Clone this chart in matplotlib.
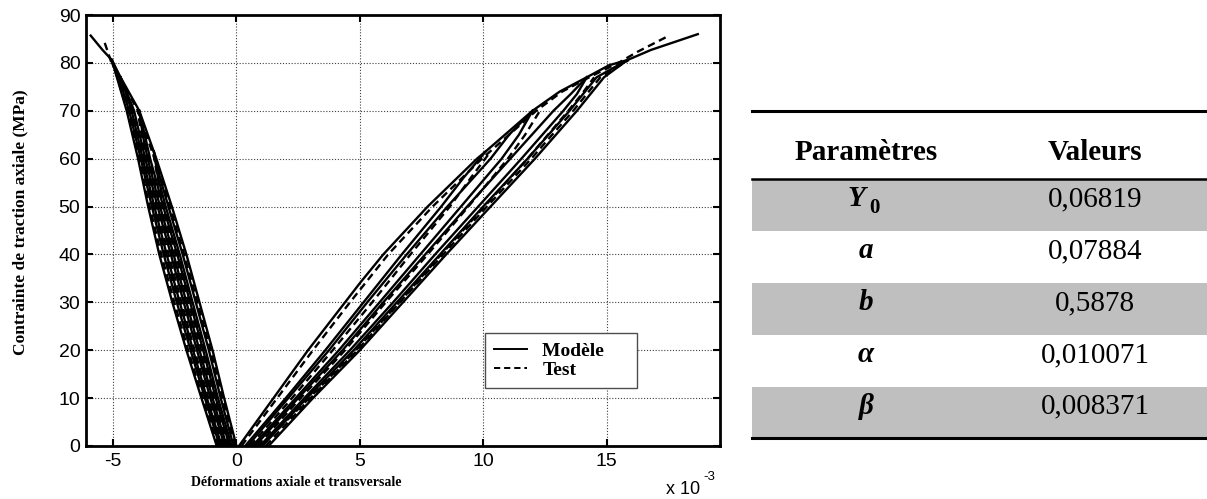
import matplotlib
matplotlib.use("Agg")
import matplotlib.pyplot as plt
from matplotlib.lines import Line2D

plt.rcParams['axes.unicode_minus'] = False

s_615 = [0, 10, 20, 30, 40, 50, 56, 61.5]
s_70 = [0, 10, 20, 30, 40, 50, 60, 65, 70]
s_77 = [0, 10, 20, 30, 40, 50, 60, 70, 73.5, 77]
s_81 = [0, 10, 20, 30, 40, 50, 60, 70, 77, 80.6]

# axial strain (x 1e-3), model = solid
axial_env_x = [0.1, 1.5, 2.9, 4.4, 5.0, 5.95, 7.75, 9.75, 10.1, 12.0, 13.1, 14.2, 15.1, 15.85, 16.8, 18.7]
axial_env_y = [0, 10, 20, 30, 34, 40, 50, 60, 61.5, 70, 74, 77, 79.5, 80.6, 82.7, 86]
axial_model_x = [
    [0.35, 2.0, 3.6, 5.15, 6.7, 8.3, 9.2, 10.1],
    [0.45, 2.1, 3.75, 5.3, 6.9, 8.55, 10.3, 11.05, 12.0],
    [0.65, 2.4, 4.15, 5.8, 7.45, 9.1, 10.75, 11.45, 12.0],
    [0.75, 2.5, 4.3, 5.95, 7.65, 9.35, 11.1, 12.85, 13.55, 14.2],
    [0.95, 2.75, 4.6, 6.35, 8.05, 9.8, 11.55, 13.25, 13.8, 14.2],
    [1.05, 2.85, 4.75, 6.5, 8.25, 10.0, 11.8, 13.5, 14.6, 15.85],
    [1.3, 3.1, 5.0, 6.75, 8.5, 10.3, 12.1, 13.8, 14.9, 15.85],
]
axial_model_y = [s_615, s_70, s_70, s_77, s_77, s_81, s_81]

# axial strain, test = dashed
axial_test_env_x = [0.2, 1.65, 3.1, 4.6, 6.15, 7.95, 9.95, 12.15, 13.2, 14.3, 15.55, 16.25, 17.5]
axial_test_env_y = [0, 10, 20, 30, 40, 50, 60, 70, 74, 77, 80.2, 82.3, 85.6]
axial_test_x = [
    [0.55, 2.25, 3.9, 5.5, 7.05, 8.65, 9.5, 10.3],
    [0.85, 2.6, 4.4, 6.05, 7.75, 9.4, 11.0, 11.7, 12.3],
    [1.0, 2.95, 4.85, 6.6, 8.3, 10.05, 11.8, 13.45, 14.0, 14.5],
    [1.18, 3.0, 4.9, 6.62, 8.38, 10.15, 11.95, 13.65, 14.75, 15.9],
]
axial_test_y = [s_615, s_70, s_77, s_81]

# transverse strain, model = solid
trans_env_x = [0, -0.5, -0.97, -1.5, -2.03, -2.62, -3.25, -3.94, -4.7, -5.05, -5.43, -5.91]
trans_env_y = [0, 10, 20, 30, 40, 50, 60, 70, 77, 80.6, 82.7, 85.7]
trans_model_x = [
    [-0.12, -0.64, -1.12, -1.65, -2.18, -2.76, -3.1, -3.35],
    [-0.2, -0.75, -1.25, -1.78, -2.3, -2.87, -3.18, -3.35],
    [-0.28, -0.84, -1.35, -1.88, -2.4, -2.97, -3.5, -3.72, -3.94],
    [-0.4, -0.97, -1.5, -2.03, -2.55, -3.1, -3.6, -3.8, -3.94],
    [-0.48, -1.06, -1.6, -2.14, -2.66, -3.2, -3.7, -4.15, -4.42, -4.7],
    [-0.6, -1.2, -1.76, -2.3, -2.83, -3.33, -3.8, -4.25, -4.47, -4.7],
    [-0.68, -1.28, -1.86, -2.42, -2.95, -3.43, -3.88, -4.35, -4.78, -5.05],
    [-0.8, -1.42, -2.03, -2.6, -3.13, -3.58, -3.99, -4.45, -4.85, -5.05],
]
trans_model_y = [s_615, s_615, s_70, s_70, s_77, s_77, s_81, s_81]

# transverse strain, test = dashed
trans_test_env_x = [-0.05, -0.57, -1.05, -1.58, -2.12, -2.7, -3.32, -4.0, -4.72, -5.08, -5.4]
trans_test_env_y = [0, 10, 20, 30, 40, 50, 60, 70, 77, 80.2, 85.1]
trans_test_x = [
    [-0.24, -0.8, -1.3, -1.83, -2.36, -2.92, -3.2, -3.38],
    [-0.34, -0.9, -1.42, -1.95, -2.47, -3.03, -3.55, -3.8, -4.0],
    [-0.45, -1.02, -1.55, -2.09, -2.6, -3.15, -3.65, -3.85, -4.0],
    [-0.55, -1.14, -1.7, -2.23, -2.75, -3.27, -3.76, -4.22, -4.48, -4.72],
    [-0.64, -1.24, -1.81, -2.36, -2.89, -3.38, -3.84, -4.3, -4.52, -4.72],
    [-0.75, -1.36, -1.96, -2.52, -3.05, -3.52, -3.95, -4.42, -4.83, -5.08],
]
trans_test_y = [s_615, s_70, s_70, s_77, s_77, s_81]

x_ticks = [-5, 0, 5, 10, 15]
y_ticks = [0, 10, 20, 30, 40, 50, 60, 70, 80, 90]

# parameter table
param_names = ['Y', 'a', 'b', 'α', 'β']
param_values = ['0,06819', '0,07884', '0,5878', '0,010071', '0,008371']

SERIF = 'Liberation Serif'
SANS = 'Liberation Sans'
W, H = 1207, 499

fig = plt.figure(figsize=(W / 100, H / 100), dpi=100)
ax = fig.add_axes([86 / W, 1 - 446 / H, (720 - 86) / W, (446 - 15) / H])

solid = dict(color='black', lw=1.7, solid_joinstyle='round')
dashed = dict(color='black', lw=1.7, ls=(0, (3.2, 2.0)))

ax.plot(axial_env_x, axial_env_y, **solid)
for xs, ys in zip(axial_model_x, axial_model_y):
    ax.plot(xs, ys, **solid)
ax.plot(axial_test_env_x, axial_test_env_y, **dashed)
for xs, ys in zip(axial_test_x, axial_test_y):
    ax.plot(xs, ys, **dashed)

ax.plot(trans_env_x, trans_env_y, **solid)
for xs, ys in zip(trans_model_x, trans_model_y):
    ax.plot(xs, ys, **solid)
ax.plot(trans_test_env_x, trans_test_env_y, **dashed)
for xs, ys in zip(trans_test_x, trans_test_y):
    ax.plot(xs, ys, **dashed)

ax.set_xlim(-6.1, 19.6)
ax.set_ylim(0, 90)
ax.set_xticks(x_ticks)
ax.set_yticks(y_ticks)
ax.grid(True, color='0.25', lw=0.8, ls=(0, (1, 1.6)))
ax.tick_params(direction='in', length=5, width=1.5, top=True, right=True,
               labelsize=14, labelfontfamily=SANS)
ax.tick_params(axis='x', pad=5)
ax.tick_params(axis='y', pad=4)
for sp in ax.spines.values():
    sp.set_linewidth(2)

handles = [Line2D([], [], color='black', lw=1.4),
           Line2D([], [], color='black', lw=1.4, ls=(0, (3.2, 2.0)))]
ax.legend(handles, ['Modèle     ', 'Test'], loc='lower left',
          bbox_to_anchor=((485 - 86) / 634, (446 - 388) / 431),
          borderaxespad=0, fancybox=False, edgecolor='0.3', framealpha=1,
          prop={'family': SERIF, 'weight': 'bold', 'size': 14},
          handlelength=1.7, handletextpad=0.8, labelspacing=0.1,
          borderpad=0.45)
ax.get_legend().get_frame().set_linewidth(1.0)

fig.text(296 / W, 1 - 483 / H, 'Déformations axiale et transversale',
         family=SERIF, weight='bold', fontsize=10, ha='center', va='center')
fig.text(20 / W, 1 - 222 / H, 'Contrainte de traction axiale (MPa)',
         family=SERIF, weight='bold', fontsize=12.5, ha='center', va='center',
         rotation=90)
fig.text(666 / W, 1 - 490 / H, 'x 10', family=SANS, fontsize=13,
         ha='left', va='center')
fig.text(703 / W, 1 - 477 / H, '-3', family=SANS, fontsize=9.5,
         ha='left', va='center')

# table drawn in pixel coordinates
tab = fig.add_axes([730 / W, 0, (W - 730) / W, 1])
tab.set_xlim(730, W)
tab.set_ylim(H, 0)
tab.axis('off')

row_edges = [179, 231, 283, 335, 387, 438]
for i in range(len(param_names)):
    if i % 2 == 0:
        tab.fill_between([752, W], row_edges[i], row_edges[i + 1],
                         color='#bfbfbf', lw=0)
tab.plot([752, W], [111, 111], color='black', lw=2.2)
tab.plot([752, W], [179, 179], color='black', lw=1.8)
tab.plot([752, W], [438, 438], color='black', lw=2.2)

tab.text(866, 153, 'Paramètres', family=SERIF, weight='bold', fontsize=21,
         ha='center', va='center')
tab.text(1095, 153, 'Valeurs', family=SERIF, weight='bold', fontsize=21,
         ha='center', va='center')
for i, (name, val) in enumerate(zip(param_names, param_values)):
    yc = (row_edges[i] + row_edges[i + 1]) / 2 - 6
    if name == 'Y':
        tab.text(856, yc, name, family=SERIF, weight='bold', style='italic',
                 fontsize=21, ha='center', va='center')
        tab.text(874, yc + 9, '0', family=SERIF, weight='bold',
                 fontsize=15, ha='center', va='center')
    else:
        tab.text(866, yc, name, family=SERIF, weight='bold', style='italic',
                 fontsize=21, ha='center', va='center')
    tab.text(1095, yc, val, family=SERIF, fontsize=21, ha='center', va='center')

fig.savefig('out.png', dpi=100)
